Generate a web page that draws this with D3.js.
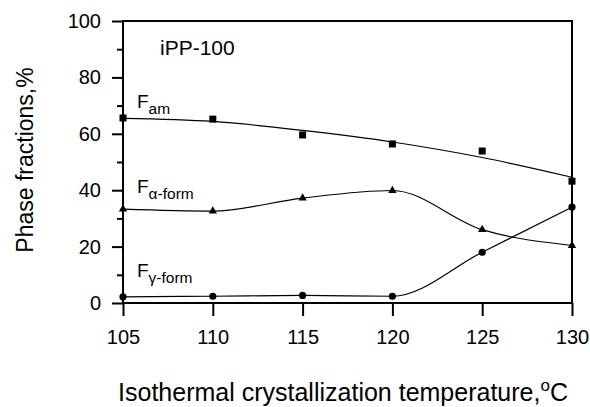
<!DOCTYPE html>
<html>
<head>
<meta charset="utf-8">
<script src="https://cdn.jsdelivr.net/npm/d3@7"></script>
<style>
  html, body { margin: 0; padding: 0; background: #fff; }
  svg { display: block; font-family: "Liberation Sans", Arial, sans-serif; }
</style>
</head>
<body>
<svg id="chart" width="590" height="407"></svg>
<script>
// Crystallization temperatures (°C)
const temperatures = [105, 110, 115, 120, 125, 130];
// Amorphous fraction, measured points (%)
const fAm = [65.6, 65.2, 59.6, 56.4, 53.9, 43.2];
// Smoothed amorphous trend at the same temperatures (%)
const fAmTrend = [65.5, 64.4, 61.2, 57.1, 51.6, 44.6];
// α-form fraction (%)
const fAlpha = [33.3, 32.6, 37.2, 39.9, 26.0, 20.4];
// γ-form fraction (%)
const fGamma = [2.2, 2.4, 2.7, 2.4, 18.0, 34.0];

const xTicks = [105, 110, 115, 120, 125, 130];
const yTicks = [0, 20, 40, 60, 80, 100];
const yMinorTicks = [10, 30, 50, 70, 90];

const svg = d3.select("#chart");
const margin = { left: 123, right: 17, top: 21, bottom: 104 };
const W = 590, H = 407;

const x = d3.scaleLinear().domain([105, 130]).range([margin.left, W - margin.right - 1]);
const y = d3.scaleLinear().domain([0, 100]).range([H - margin.bottom, margin.top]);

const g = svg.append("g");

// Frame
g.append("rect")
  .attr("x", x(105)).attr("y", y(100))
  .attr("width", x(130) - x(105)).attr("height", y(0) - y(100))
  .attr("fill", "none").attr("stroke", "#000").attr("stroke-width", 2);

// Y axis (major ticks with labels)
const yAxis = d3.axisLeft(y).tickValues(yTicks).tickSize(11).tickPadding(11).tickFormat(d3.format("d"));
const ya = g.append("g").attr("transform", `translate(${x(105)},0)`).call(yAxis);
// Minor y ticks
const yaMinor = g.append("g").attr("transform", `translate(${x(105)},0)`)
  .call(d3.axisLeft(y).tickValues(yMinorTicks).tickSize(6).tickFormat(""));

// X axis
const xAxis = d3.axisBottom(x).tickValues(xTicks).tickSize(13).tickPadding(14).tickFormat(d3.format("d"));
const xa = g.append("g").attr("transform", `translate(0,${y(0)})`).call(xAxis);

[ya, yaMinor, xa].forEach(a => {
  a.select(".domain").remove();
  a.selectAll(".tick line").attr("stroke", "#000").attr("stroke-width", 2);
  a.selectAll(".tick text").attr("fill", "#000").style("font-size", "20px")
    .style("font-family", "'Liberation Sans', Arial, sans-serif");
});

// Lines
const line = d3.line().x(d => x(d[0])).y(d => y(d[1])).curve(d3.curveMonotoneX);
const pairs = arr => temperatures.map((t, i) => [t, arr[i]]);

[fAmTrend, fAlpha, fGamma].forEach(arr => {
  g.append("path").datum(pairs(arr))
    .attr("d", line)
    .attr("fill", "none").attr("stroke", "#000").attr("stroke-width", 1.2);
});

// Markers
g.selectAll(".sq").data(pairs(fAm)).join("rect")
  .attr("x", d => x(d[0]) - 3.5).attr("y", d => y(d[1]) - 3.5)
  .attr("width", 7).attr("height", 7).attr("fill", "#000");

const tri = d3.symbol().type(d3.symbolTriangle).size(30);
g.selectAll(".tri").data(pairs(fAlpha)).join("path")
  .attr("transform", d => `translate(${x(d[0])},${y(d[1])})`)
  .attr("d", tri).attr("fill", "#000");

g.selectAll(".dot").data(pairs(fGamma)).join("circle")
  .attr("cx", d => x(d[0])).attr("cy", d => y(d[1]))
  .attr("r", 3.6).attr("fill", "#000");

// Annotations
g.append("text").attr("x", 160).attr("y", 55)
  .style("font-size", "21px").text("iPP-100");

function phaseLabel(px, py, sub) {
  const t = g.append("text").attr("x", px).attr("y", py).style("font-size", "19px");
  t.append("tspan").text("F");
  t.append("tspan").attr("dy", 6).style("font-size", "15.5px").text(sub);
}
phaseLabel(137, 108, "am");
phaseLabel(137, 193, "α-form");
phaseLabel(137, 277, "γ-form");

// Axis titles
g.append("text")
  .attr("transform", `translate(33,160) rotate(-90)`)
  .attr("text-anchor", "middle")
  .style("font-size", "23px")
  .text("Phase fractions,%");

const xt = g.append("text")
  .attr("x", 343).attr("y", 401)
  .attr("text-anchor", "middle")
  .style("font-size", "25px");
xt.append("tspan").text("Isothermal crystallization temperature,");
xt.append("tspan").attr("dy", -10).style("font-size", "17px").text("o");
xt.append("tspan").attr("dy", 10).text("C");
</script>
</body>
</html>
